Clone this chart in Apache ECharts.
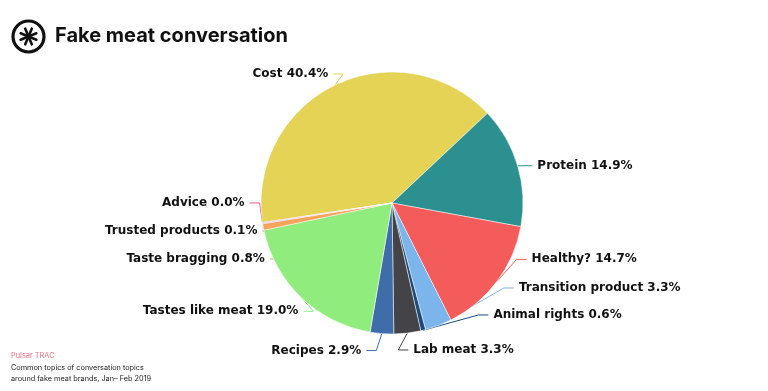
<!DOCTYPE html>
<html>
<head>
<meta charset="utf-8">
<script src="https://cdn.jsdelivr.net/npm/echarts@6/dist/echarts.min.js"></script>
<style>
html,body{margin:0;padding:0;background:#fff;}
#chart{width:768px;height:391px;}
</style>
</head>
<body>
<div id="chart"></div>
<script>
const categories = ['Cost','Protein','Healthy?','Transition product','Animal rights','Lab meat','Recipes','Tastes like meat','Taste bragging','Trusted products','Advice'];
const shares = [40.4, 14.9, 14.7, 3.3, 0.6, 3.3, 2.9, 19.0, 0.8, 0.1, 0.04];
const colors = ['#e4d354','#2b908f','#f45b5b','#7cb5ec','#1d4a7a','#434348','#3f6daa','#90ed7d','#f7a35c','#8085e9','#f15c80'];
const titleText = 'Fake meat conversation';
const sourceText = 'Pulsar TRAC';
const noteLines = ['Common topics of conversation topics','around fake meat brands, Jan– Feb 2019'];

// label nudges (relative offsets, layout only)
const labelNudge = [[12,-4],[-3,2],[11,-27],[36,-45],[31,-32],[-10,-11],[-5,9],[13,8],[13,7],[10,-7],[0,-21]];

const chart = echarts.init(document.getElementById('chart'), null, {renderer:'canvas'});
const data = categories.map((c,i)=>({name:c, value:shares[i], itemStyle:{color:colors[i]}}));

const armLines = [];
for (let k=0;k<4;k++){
  const a = k*Math.PI/4 + Math.PI/8;
  armLines.push({type:'line', shape:{x1:28.5-8.5*Math.cos(a), y1:36.5-8.5*Math.sin(a), x2:28.5+8.5*Math.cos(a), y2:36.5+8.5*Math.sin(a)}, style:{stroke:'#111', lineWidth:2.6, lineCap:'round'}});
}

chart.setOption({
  animation:false,
  backgroundColor:'#fff',
  title:[
    {text:titleText, left:55, top:26, padding:0, textStyle:{fontFamily:'Inter', fontWeight:'bold', fontSize:20, color:'#111'}},
    {text:sourceText, left:11, top:352, padding:0, textStyle:{fontFamily:'Inter', fontWeight:'normal', fontSize:7.4, color:'#f0707f'}},
    {text:noteLines.join('\n'), left:11, top:362, padding:0, textStyle:{fontFamily:'Inter', fontWeight:'normal', fontSize:7.3, lineHeight:11, color:'#222'}}
  ],
  graphic:[
    {type:'circle', shape:{cx:28.5, cy:36.5, r:15.5}, style:{fill:'none', stroke:'#111', lineWidth:3.2}},
    ...armLines
  ],
  series:[{
    type:'pie',
    center:[392,203],
    radius:131,
    startAngle:188.6,
    clockwise:true,
    avoidLabelOverlap:true,
    data:data,
    itemStyle:{borderColor:'#fff', borderWidth:0.5},
    label:{
      show:true,
      position:'outside',
      formatter:p=>p.name+' '+p.value.toFixed(1)+'%',
      fontFamily:'DejaVu Sans',
      fontWeight:'bold',
      fontSize:12,
      color:'#111'
    },
    labelLine:{show:true, length:8, length2:10, lineStyle:{width:1}},
    labelLayout:function(p){
      const n = labelNudge[p.dataIndex] || [0,0];
      const out = {dx:n[0], dy:n[1]};
      const pts = p.labelLinePoints;
      if (pts && pts.length >= 3) {
        out.labelLinePoints = [
          [pts[0][0], pts[0][1]],
          [pts[1][0] + n[0], pts[1][1] + n[1]],
          [pts[2][0] + n[0], pts[2][1] + n[1]]
        ];
      }
      return out;
    },
    emphasis:{disabled:true}
  }]
});
</script>
</body>
</html>
